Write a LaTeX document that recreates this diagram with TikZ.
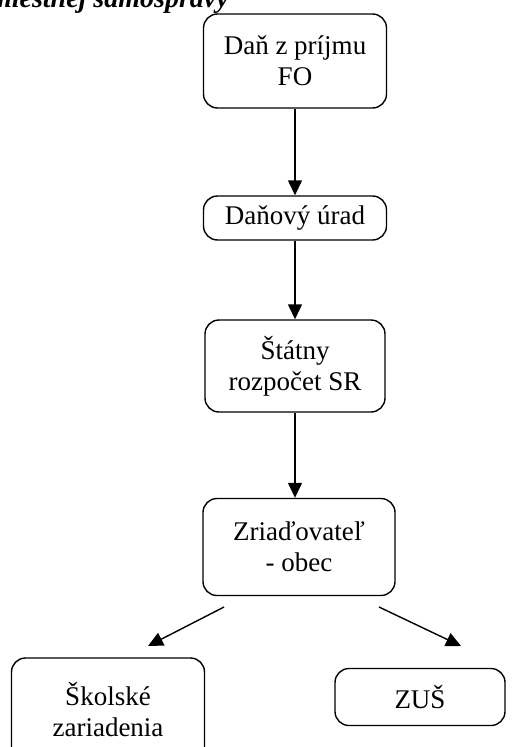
\documentclass[tikz,border=0pt]{standalone}
\usepackage{fontspec}
\setmainfont{Liberation Serif}
\usetikzlibrary{arrows.meta}

\tikzset{
  box/.style={draw, line width=1.4pt, rounded corners=14pt, align=center,
              inner sep=0pt, font=\fontsize{27}{31}\selectfont},
  flow/.style={line width=1.4pt, -{Triangle[length=15pt, width=14pt]}}
}

\begin{document}
\begin{tikzpicture}[x=1pt, y=-1pt]
    \useasboundingbox (0,0) rectangle (522,747);
    % heading, cut off at the top of the page
    \node[anchor=base east, inner sep=0pt, font=\fontsize{28}{32}\selectfont\bfseries\itshape]
      (title) at (229,7) {miestnej samosprávy};

    \node[box, minimum width=183pt, minimum height=94pt] (dan) at (295,61) {Daň z príjmu\\FO};
    \node[box, minimum width=183pt, minimum height=44pt] (urad) at (295,218) {Daňový úrad};
    \node[box, minimum width=180pt, minimum height=92pt] (rozpocet) at (295,366) {Štátny\\rozpočet SR};
    \node[box, minimum width=192pt, minimum height=97pt] (obec) at (299,547) {Zriaďovateľ\\- obec};
    \node[box, minimum width=193pt, minimum height=104pt] (skoly) at (108,710) {Školské\\zariadenia};
    \node[box, minimum width=170pt, minimum height=57pt] (zus) at (420,697) {ZUŠ};

    \coordinate (l0) at (224,607);
    \coordinate (l1) at (148,646);
    \coordinate (r0) at (379,607);
    \coordinate (r1) at (461,646);

    \draw[flow] (dan.south) -- (urad.north);
    \draw[flow] (urad.south) -- (rozpocet.north);
    \draw[flow] (rozpocet.south) -- (rozpocet.south |- obec.north);
    \draw[flow] (l0) -- (l1);
    \draw[flow] (r0) -- (r1);
\end{tikzpicture}
\end{document}
